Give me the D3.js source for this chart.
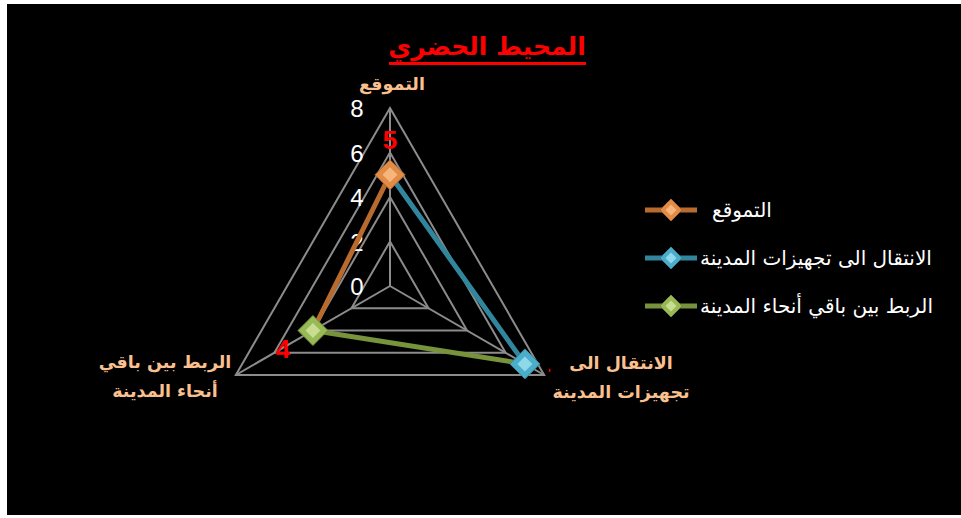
<!DOCTYPE html>
<html>
<head>
<meta charset="utf-8">
<script src="https://cdn.jsdelivr.net/npm/d3@7"></script>
<style>
  body { margin: 0; background: #fff; }
  svg { display: block; }
</style>
</head>
<body>
<div id="chart"></div>
<script>
// data
const categories = ["التموقع", "الانتقال الى تجهيزات المدينة", "الربط بين باقي أنحاء المدينة"];
const axisLabels = [["التموقع"], ["الانتقال الى", "تجهيزات المدينة"], ["الربط بين باقي", "أنحاء المدينة"]];
const values = [5, 7, 4];
const tickValues = [0, 2, 4, 6, 8];
const colors = ["#B96B2E", "#31859C", "#77933C"];
const markerColors = ["#E18B45", "#4AAECB", "#98B954"];
const markerLight = ["#F6B57C", "#8FD8EC", "#C6DD92"];

const W = 961, H = 518;
const svg = d3.select("#chart").append("svg")
  .attr("width", W).attr("height", H);

svg.append("rect").attr("x", 7).attr("y", 4).attr("width", W - 7).attr("height", 511).attr("fill", "#000");

// title
svg.append("text")
  .attr("x", 487).attr("y", 55)
  .attr("text-anchor", "middle")
  .attr("font-family", "DejaVu Sans")
  .attr("font-weight", "bold")
  .attr("font-size", 25)
  .attr("fill", "#FF0000")
  .text("المحيط الحضري");
svg.append("rect").attr("x", 389).attr("y", 62).attr("width", 197).attr("height", 3).attr("fill", "#FF0000");

const cx = 390, cy = 286, R = 178;
const r = d3.scaleLinear().domain([0, 8]).range([0, R]);
const angle = i => -Math.PI / 2 + i * 2 * Math.PI / 3;
const pt = (i, v) => [cx + r(v) * Math.cos(angle(i)), cy + r(v) * Math.sin(angle(i))];

const g = svg.append("g");

// grid
tickValues.slice(1).forEach(t => {
  g.append("polygon")
    .attr("points", categories.map((c, i) => pt(i, t).join(",")).join(" "))
    .attr("fill", "none").attr("stroke", "#8c8c8c").attr("stroke-width", 2);
});
categories.forEach((c, i) => {
  const p = pt(i, 8);
  g.append("line").attr("x1", cx).attr("y1", cy).attr("x2", p[0]).attr("y2", p[1])
    .attr("stroke", "#8c8c8c").attr("stroke-width", 2);
});

// tick labels
tickValues.forEach(t => {
  g.append("text")
    .attr("x", cx - 33).attr("y", cy - r(t) + 9)
    .attr("text-anchor", "middle")
    .attr("font-family", "Liberation Sans")
    .attr("font-size", 24)
    .attr("fill", "#fff")
    .text(t);
});

// axis labels
const labelPos = [[392, 90], [621, 369], [165, 368]];
axisLabels.forEach((lines, i) => {
  const t = g.append("text")
    .attr("text-anchor", "middle")
    .attr("font-family", "DejaVu Sans")
    .attr("font-weight", "bold")
    .attr("font-size", 17.5)
    .attr("fill", "#FAC090");
  lines.forEach((l, j) => {
    t.append("tspan").attr("x", labelPos[i][0]).attr("y", labelPos[i][1] + j * 29).text(l);
  });
});

// segments: colored by the point each one ends at
categories.forEach((c, i) => {
  const prev = (i + 2) % 3;
  const a = pt(prev, values[prev]), b = pt(i, values[i]);
  g.append("line").attr("x1", a[0]).attr("y1", a[1]).attr("x2", b[0]).attr("y2", b[1])
    .attr("stroke", colors[i]).attr("stroke-width", 5).attr("stroke-linecap", "round");
});

function diamond(sel, x, y, s, i) {
  sel.append("path")
    .attr("d", `M${x},${y - s}L${x + s},${y}L${x},${y + s}L${x - s},${y}Z`)
    .attr("fill", markerColors[i]).attr("stroke", d3.color(markerColors[i]).darker(0.8)).attr("stroke-width", 1);
  sel.append("path")
    .attr("d", `M${x},${y - s * 0.5}L${x + s * 0.5},${y}L${x},${y + s * 0.5}L${x - s * 0.5},${y}Z`)
    .attr("fill", markerLight[i]);
}

values.forEach((v, i) => {
  const p = pt(i, v);
  diamond(g, p[0], p[1], 15, i);
});

// data labels
const lblOff = [[0, -26], [24, 8], [-30, 27]];
values.forEach((v, i) => {
  const p = pt(i, v);
  if (i === 1) {
    g.append("rect").attr("x", p[0] + lblOff[i][0]).attr("y", p[1] + lblOff[i][1] - 3)
      .attr("width", 1.5).attr("height", 3).attr("fill", "#f00");
    return;
  }
  g.append("text")
    .attr("x", p[0] + lblOff[i][0]).attr("y", p[1] + lblOff[i][1])
    .attr("text-anchor", "middle")
    .attr("font-family", "Liberation Sans")
    .attr("font-weight", "bold")
    .attr("font-size", 26)
    .attr("fill", "#FF0000")
    .text(v);
});

// legend
const leg = svg.append("g");
categories.forEach((c, i) => {
  const y = 210 + i * 48;
  leg.append("line").attr("x1", 645).attr("x2", 697).attr("y1", y).attr("y2", y)
    .attr("stroke", colors[i]).attr("stroke-width", 5);
  diamond(leg, 671, y, 11, i);
  leg.append("text")
    .attr("x", i === 0 ? 712 : 700).attr("y", y + 7)
    .attr("text-anchor", "start")
    .attr("font-family", "DejaVu Sans")
    .attr("font-size", 20)
    .attr("fill", "#fff")
    .text(c);
});
</script>
</body>
</html>
